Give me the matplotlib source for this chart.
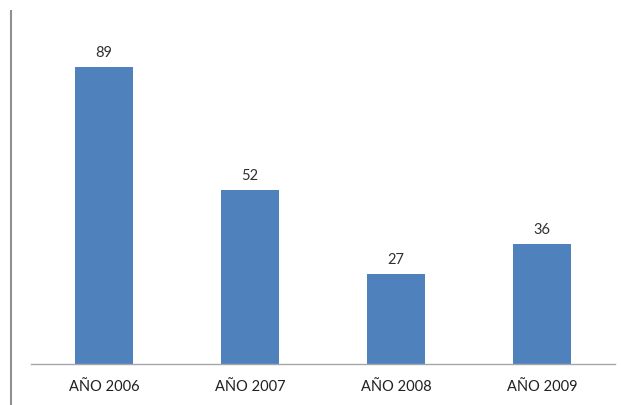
import matplotlib
matplotlib.use('Agg')
import matplotlib.pyplot as plt
from matplotlib.lines import Line2D

categories = ['AÑO 2006', 'AÑO 2007', 'AÑO 2008', 'AÑO 2009']
values = [89, 52, 27, 36]

plt.rcParams['font.family'] = ['Lato', 'DejaVu Sans']

fig = plt.figure(figsize=(6.21, 4.06), dpi=100)
ax = fig.add_axes([31/621, 41/406, 584/621, 334/406])

x = range(len(categories))
bars = ax.bar(x, values, width=0.4, color='#4F81BD')
for b, v in zip(bars, values):
    ax.text(b.get_x() + b.get_width()/2, v + 2.4, str(v), ha='center', va='bottom',
            fontsize=10.5, color='#303030')

ax.set_xlim(-0.5, len(categories) - 0.5)
ax.set_ylim(0, 100)
ax.set_xticks(list(x))
ax.set_xticklabels(categories, fontsize=10.5, color='#202020')
ax.tick_params(axis='x', length=0, pad=11)
ax.set_yticks([])
for s in ['top', 'right', 'left']:
    ax.spines[s].set_visible(False)
ax.spines['bottom'].set_color('#A6A6A6')
ax.spines['bottom'].set_linewidth(1.0)

# left border line
fig.add_artist(Line2D([11/621, 11/621], [0, 1 - 12/406], transform=fig.transFigure,
                      color='#909090', linewidth=1.5))

fig.savefig('out.png', dpi=100)
